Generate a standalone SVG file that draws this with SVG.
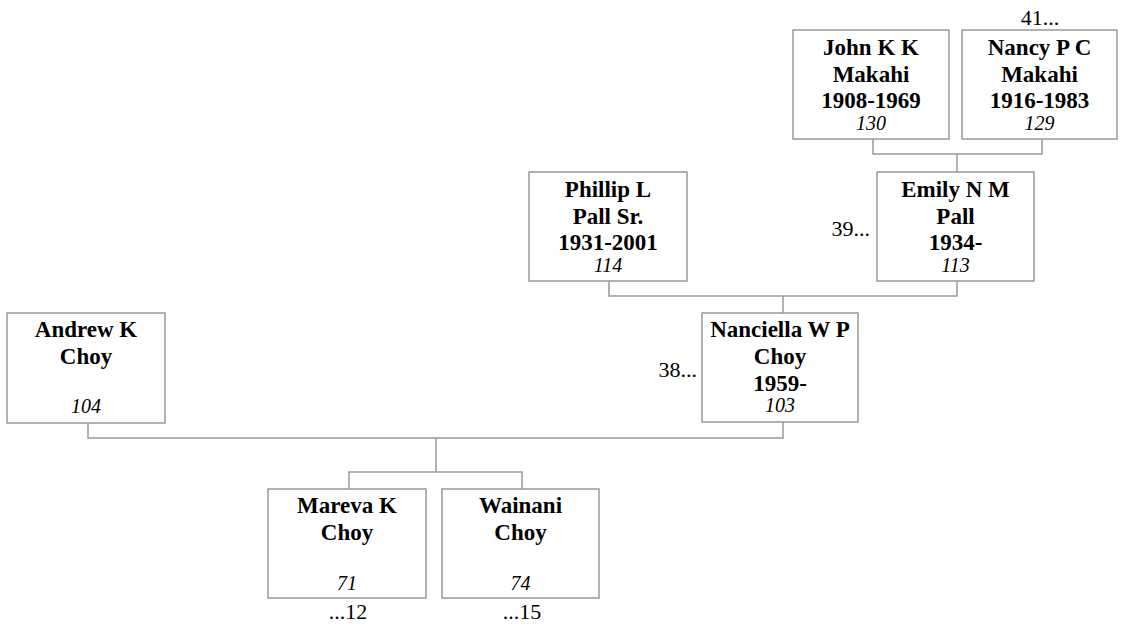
<svg xmlns="http://www.w3.org/2000/svg" width="1124" height="626" viewBox="0 0 1124 626" font-family="Liberation Serif, serif">
<style>
.box{fill:#fff;stroke:#999;stroke-width:1.5}
.n{font-weight:bold;font-size:23px;text-anchor:middle;fill:#000}
.id{font-style:italic;font-size:20px;text-anchor:middle;fill:#000}
.lbl{font-size:22px;fill:#000}
.c{fill:none;stroke:#999;stroke-width:1.5}
</style>
<rect width="1124" height="626" fill="#fff"/>
<g id="connectors">
<path class="c" d="M873 139V154H1042V139M957 154V172"/>
<path class="c" d="M609 281V296H957V281M783 296V313"/>
<path class="c" d="M88 423V438H783V422M436 438V472M349 489V472H522V489"/>
</g>
<g id="john" font-family="Liberation Serif">
<rect class="box" x="793" y="30" width="156" height="109"/>
<text class="n" x="871" y="55" font-family="Liberation Serif">John K K</text>
<text class="n" x="871" y="82">Makahi</text>
<text class="n" x="871" y="108">1908-1969</text>
<text class="id" x="871" y="130">130</text>
</g>
<g id="nancy">
<rect class="box" x="962" y="30" width="155" height="109"/>
<text class="n" x="1039.5" y="55">Nancy P C</text>
<text class="n" x="1039.5" y="82">Makahi</text>
<text class="n" x="1039.5" y="108">1916-1983</text>
<text class="id" x="1039.5" y="130">129</text>
<text class="lbl" x="1040" y="25" text-anchor="middle">41...</text>
</g>
<g id="phillip">
<rect class="box" x="529" y="172" width="158" height="109"/>
<text class="n" x="608" y="197">Phillip L</text>
<text class="n" x="608" y="224">Pall Sr.</text>
<text class="n" x="608" y="250">1931-2001</text>
<text class="id" x="608" y="272">114</text>
</g>
<g id="emily">
<rect class="box" x="877" y="172" width="157" height="109"/>
<text class="n" x="955.5" y="197">Emily N M</text>
<text class="n" x="955.5" y="224">Pall</text>
<text class="n" x="955.5" y="250">1934-</text>
<text class="id" x="955.5" y="272">113</text>
<text class="lbl" x="870" y="236" text-anchor="end">39...</text>
</g>
<g id="andrew">
<rect class="box" x="7" y="313" width="158" height="110"/>
<text class="n" x="86" y="337">Andrew K</text>
<text class="n" x="86" y="364">Choy</text>
<text class="id" x="86" y="413">104</text>
</g>
<g id="nanciella">
<rect class="box" x="702" y="313" width="156" height="109"/>
<text class="n" x="780" y="337">Nanciella W P</text>
<text class="n" x="780" y="364">Choy</text>
<text class="n" x="780" y="391">1959-</text>
<text class="id" x="780" y="412">103</text>
<text class="lbl" x="697" y="377" text-anchor="end">38...</text>
</g>
<g id="mareva">
<rect class="box" x="268" y="489" width="158" height="109"/>
<text class="n" x="347" y="513">Mareva K</text>
<text class="n" x="347" y="540">Choy</text>
<text class="id" x="347" y="590">71</text>
<text class="lbl" x="348" y="619" text-anchor="middle">...12</text>
</g>
<g id="wainani">
<rect class="box" x="442" y="489" width="157" height="109"/>
<text class="n" x="520.5" y="513">Wainani</text>
<text class="n" x="520.5" y="540">Choy</text>
<text class="id" x="520.5" y="590">74</text>
<text class="lbl" x="522" y="619" text-anchor="middle">...15</text>
</g>
</svg>
